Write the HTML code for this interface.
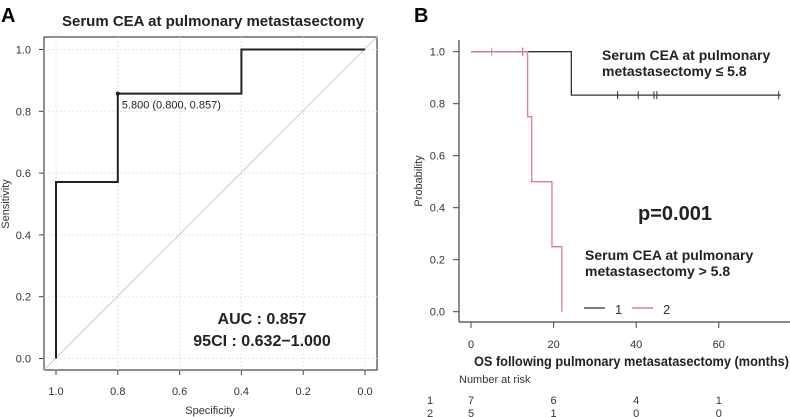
<!DOCTYPE html>
<html><head><meta charset="utf-8"><style>
body{margin:0;background:#fff;}
svg{display:block;font-family:"Liberation Sans",sans-serif;}
</style></head><body>
<svg id="c" width="790" height="417" viewBox="0 0 790 417">
<text x="1" y="22" font-size="20" font-weight="bold">A</text>
<text x="213" y="26" font-size="15" font-weight="bold" text-anchor="middle" fill="#222">Serum CEA at pulmonary metastasectomy</text>
<rect x="44" y="37" width="333" height="333" fill="none" stroke="#444" stroke-width="1.2"/>
<g id="rocGrid"></g>
<g id="rocAxes"></g>
<line x1="44" y1="370" x2="377" y2="37" stroke="#ccc" stroke-width="1"/>
<path id="rocPath" fill="none" stroke="#222" stroke-width="2"/>
<circle id="rocPt" r="2" fill="#222"/>
<text id="rocPtLbl" font-size="11" fill="#222">5.800 (0.800, 0.857)</text>
<text x="262" y="324" font-size="16" font-weight="bold" text-anchor="middle" fill="#222">AUC : 0.857</text>
<text x="262" y="346" font-size="16" font-weight="bold" text-anchor="middle" fill="#222">95CI : 0.632−1.000</text>
<text x="210" y="414" font-size="11" text-anchor="middle" fill="#333">Specificity</text>
<text transform="translate(9,204) rotate(-90)" font-size="11" text-anchor="middle" fill="#333">Sensitivity</text>

<text x="414" y="22" font-size="20" font-weight="bold">B</text>
<line x1="459" y1="40" x2="459" y2="322" stroke="#444" stroke-width="1.2"/>
<line x1="459" y1="322" x2="790" y2="322" stroke="#444" stroke-width="1.2"/>
<g id="kmAxes"></g>
<g id="kmCurves"></g>
<text transform="translate(422,181) rotate(-90)" font-size="11" text-anchor="middle" fill="#333">Probability</text>
<text x="602" y="60" font-size="14" font-weight="bold" fill="#222">Serum CEA at pulmonary</text>
<text x="602" y="76" font-size="14" font-weight="bold" fill="#222">metastasectomy ≤ 5.8</text>
<text x="638" y="220" font-size="20" font-weight="bold" fill="#222">p=0.001</text>
<text x="585" y="260" font-size="14" font-weight="bold" fill="#222">Serum CEA at pulmonary</text>
<text x="585" y="276" font-size="14" font-weight="bold" fill="#222">metastasectomy &gt; 5.8</text>
<g>
<line x1="584" y1="308" x2="605" y2="308" stroke="#555" stroke-width="1.5"/>
<text x="615" y="314" font-size="13" fill="#333">1</text>
<line x1="632" y1="308" x2="653" y2="308" stroke="#e07a98" stroke-width="1.5"/>
<text x="663" y="314" font-size="13" fill="#333">2</text>
</g>
<text x="474" y="366" font-size="13.5" font-weight="bold" fill="#222" textLength="315" lengthAdjust="spacingAndGlyphs">OS following pulmonary metasatasectomy (months)</text>
<text x="459" y="383" font-size="11" fill="#333">Number at risk</text>
<g id="riskTable"></g>
</svg>
<script>
const rocSpec=[1.0,1.0,0.8,0.8,0.4,0.4,0.0];
const rocSens=[0.0,0.571,0.571,0.857,0.857,1.0,1.0];
const rocTicks=[1.0,0.8,0.6,0.4,0.2,0.0];
const rocThreshSpec=0.8, rocThreshSens=0.857;
const kmYTicks=[0.0,0.2,0.4,0.6,0.8,1.0];
const kmXTicks=[0,20,40,60];
const g1Times=[0,24.3,75];
const g1Surv=[1.0,0.833,0.833];
const g1Censor=[12.5,35.5,40.5,44.3,45,74.5];
const g2Times=[0,13.7,14.7,19.6,22];
const g2Surv=[1.0,0.75,0.5,0.25,0.0];
const g2Censor=[5,12.5];
const riskGroups=["1","2"];
const riskTimes=[0,20,40,60];
const risk1=[7,6,4,1];
const risk2=[5,1,0,0];

const NS="http://www.w3.org/2000/svg";
function mk(tag,attrs,parent,txt){const e=document.createElementNS(NS,tag);for(const k in attrs)e.setAttribute(k,attrs[k]);if(txt!==undefined)e.textContent=txt;parent.appendChild(e);return e;}
const rx=v=>365-(v)*309, ry=v=>358.5-v*309;
const grid=document.getElementById('rocGrid'), ra=document.getElementById('rocAxes');
rocTicks.forEach(t=>{
 let l=mk('line',{x1:rx(t),x2:rx(t),y1:37,y2:370,stroke:'#e4e4e4','stroke-dasharray':'2,2'},grid);
 
 
 l=mk('line',{x1:44,x2:377,y1:ry(t),y2:ry(t),stroke:'#e4e4e4','stroke-dasharray':'2,2'},grid);
 
 
 l=mk('line',{x1:rx(t),x2:rx(t),y1:370,y2:375,stroke:'#444'},ra);
 
 
 let tx=mk('text',{x:rx(t),y:395,'font-size':11,'text-anchor':'middle',fill:'#333'},ra,t.toFixed(1));
 
 
 l=mk('line',{x1:39,x2:44,y1:ry(t),y2:ry(t),stroke:'#444'},ra);
 
 
 tx=mk('text',{x:31,y:ry(t)+4,'font-size':11,'text-anchor':'end',fill:'#333'},ra,t.toFixed(1));
 
 
});
document.getElementById('rocPath').setAttribute('d',rocSpec.map((s,i)=>(i?'L':'M')+rx(s)+' '+ry(rocSens[i])).join(' '));
const pt=document.getElementById('rocPt');pt.setAttribute('cx',rx(rocThreshSpec));pt.setAttribute('cy',ry(rocThreshSens));
const pl=document.getElementById('rocPtLbl');pl.setAttribute('x',rx(rocThreshSpec)+4);pl.setAttribute('y',ry(rocThreshSens)+15);

const kx=t=>471+t*4.13, ky=p=>311.7-p*260;
const ka=document.getElementById('kmAxes');
kmYTicks.forEach(t=>{
 let l=mk('line',{x1:453,x2:459,y1:ky(t),y2:ky(t),stroke:'#444'},ka);
 
 
 let tx=mk('text',{x:445,y:ky(t)+4,'font-size':11,'text-anchor':'end',fill:'#333'},ka,t.toFixed(1));
 
 
});
kmXTicks.forEach(t=>{
 let l=mk('line',{x1:kx(t),x2:kx(t),y1:322,y2:328,stroke:'#444'},ka);
 
 
 let tx=mk('text',{x:kx(t),y:348,'font-size':11,'text-anchor':'middle',fill:'#333'},ka,String(t));
 
 
});
function stepPath(T,S){let d='M'+kx(T[0])+' '+ky(S[0]);for(let i=1;i<T.length;i++){d+=' H'+kx(T[i])+' V'+ky(S[i]);}return d;}
function survAt(T,S,t){let s=S[0];for(let i=0;i<T.length;i++)if(T[i]<=t)s=S[i];return s;}
const kc=document.getElementById('kmCurves');
[[g1Times,g1Surv,g1Censor,'#333','group1'],[g2Times,g2Surv,g2Censor,'#e07a98','group2']].forEach(([T,S,C,col,n])=>{
 const p=mk('path',{d:stepPath(T,S),fill:'none',stroke:col,'stroke-width':1.3},kc);
 
 
 C.forEach(c=>{const y=ky(survAt(T,S,c));
  const m=mk('line',{x1:kx(c),x2:kx(c),y1:y-4,y2:y+4,stroke:col,'stroke-width':1},kc);
  
  
 });
});
const rt=document.getElementById('riskTable');
[risk1,risk2].forEach((row,r)=>{
 const y=404+r*13;
 let g=mk('text',{x:430,y:y,'font-size':11,'text-anchor':'middle',fill:'#333'},rt,riskGroups[r]);
 
 
 row.forEach((v,i)=>{
  const t=mk('text',{x:kx(riskTimes[i]),y:y,'font-size':11,'text-anchor':'middle',fill:'#333'},rt,String(v));
  
  
 });
});
</script>
</body></html>
